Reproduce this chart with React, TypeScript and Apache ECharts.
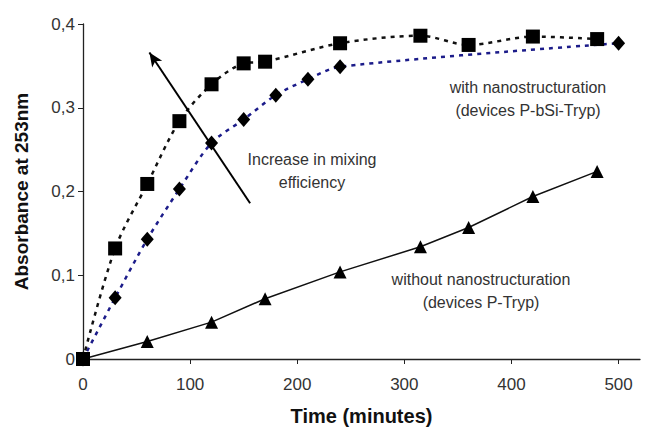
import React, { useEffect, useRef } from "react";
import * as echarts from "echarts";

const squareX = [0, 30, 60, 90, 120, 150, 170, 240, 315, 360, 420, 480];
const squareY = [0, 0.132, 0.209, 0.284, 0.328, 0.353, 0.355, 0.377, 0.386, 0.375, 0.385, 0.382];
const diamondX = [0, 30, 60, 90, 120, 150, 180, 210, 240, 500];
const diamondY = [0, 0.073, 0.143, 0.203, 0.258, 0.286, 0.315, 0.334, 0.349, 0.377];
const triangleX = [0, 60, 120, 170, 240, 315, 360, 420, 480];
const triangleY = [0, 0.021, 0.044, 0.072, 0.104, 0.134, 0.157, 0.194, 0.224];
const xTicks = [0, 100, 200, 300, 400, 500];
const yTicks = [0, 0.1, 0.2, 0.3, 0.4];
const arrowFrom = [156, 0.186];
const arrowTo = [62, 0.366];

const zip = (xs: number[], ys: number[]) => xs.map((x, i) => [x, ys[i]]);

export default function App() {
  const ref = useRef<HTMLDivElement>(null);
  useEffect(() => {
    const chart = echarts.init(ref.current!, null, { renderer: "svg" });
    const font = "'Liberation Sans', Arial, sans-serif";
    chart.setOption({
      animation: false,
      textStyle: { fontFamily: font },
      grid: { left: 83, top: 24, right: 10, bottom: 72, containLabel: false },
      xAxis: {
        type: "value",
        min: 0,
        max: 520,
        interval: 100,
        name: "Time (minutes)",
        nameLocation: "middle",
        nameGap: 47,
        nameTextStyle: { fontSize: 20, fontWeight: "bold", color: "#111", fontFamily: font },
        axisLine: { lineStyle: { color: "#222", width: 1.3 } },
        axisTick: { show: true, length: 5, inside: false, lineStyle: { color: "#222" }, customValues: xTicks },
        axisLabel: { fontSize: 17, color: "#333", margin: 17, fontFamily: font, customValues: xTicks },
        splitLine: { show: false },
      },
      yAxis: {
        type: "value",
        min: 0,
        max: 0.4,
        interval: 0.1,
        name: "Absorbance at 253nm",
        nameLocation: "middle",
        nameGap: 52,
        nameTextStyle: { fontSize: 19, fontWeight: "bold", color: "#111", fontFamily: font },
        axisLine: { show: true, lineStyle: { color: "#222", width: 1.3 } },
        axisTick: { show: true, length: 5, lineStyle: { color: "#222" }, customValues: yTicks },
        axisLabel: {
          fontSize: 17,
          color: "#333",
          margin: 8,
          fontFamily: font,
          customValues: yTicks,
          formatter: (v: number) => (v === 0 ? "0" : v.toFixed(1).replace(".", ",")),
        },
        splitLine: { show: false },
      },
      series: [
        {
          type: "line",
          data: zip(triangleX, triangleY),
          symbol: "triangle",
          symbolSize: 13,
          itemStyle: { color: "#000" },
          lineStyle: { color: "#111", width: 1.5 },
          z: 3,
        },
        {
          type: "line",
          data: zip(diamondX, diamondY),
          symbol: "diamond",
          symbolSize: [13, 15],
          smooth: 0.3,
          itemStyle: { color: "#000" },
          lineStyle: { color: "#1c1c8a", width: 2.5, type: [4, 5] },
          z: 2,
        },
        {
          type: "line",
          data: zip(squareX, squareY),
          symbol: "rect",
          symbolSize: 14,
          smooth: 0.3,
          itemStyle: { color: "#000" },
          lineStyle: { color: "#111", width: 2.5, type: [4, 5] },
          z: 4,
          markLine: {
            silent: true,
            symbol: ["none", "arrow"],
            symbolSize: [9, 14],
            label: { show: false },
            lineStyle: { color: "#000", width: 2, type: "solid" },
            data: [[{ coord: arrowFrom }, { coord: arrowTo }]],
          },
        },
      ],
      graphic: [
        {
          type: "text",
          x: 312,
          y: 171,
          style: {
            text: "Increase in mixing\nefficiency",
            font: `16px ${font}`,
            fill: "#333",
            textAlign: "center",
            textVerticalAlign: "middle",
            lineHeight: 23,
          },
        },
        {
          type: "text",
          x: 528,
          y: 99,
          style: {
            text: "with nanostructuration\n(devices P-bSi-Tryp)",
            font: `16px ${font}`,
            fill: "#333",
            textAlign: "center",
            textVerticalAlign: "middle",
            lineHeight: 23,
          },
        },
        {
          type: "text",
          x: 481,
          y: 291,
          style: {
            text: "without nanostructuration\n(devices P-Tryp)",
            font: `16px ${font}`,
            fill: "#333",
            textAlign: "center",
            textVerticalAlign: "middle",
            lineHeight: 23,
          },
        },
      ],
    });
    return () => chart.dispose();
  }, []);
  return <div ref={ref} style={{ width: 650, height: 431, position: "absolute", left: 0, top: 0, background: "#fff" }} />;
}
